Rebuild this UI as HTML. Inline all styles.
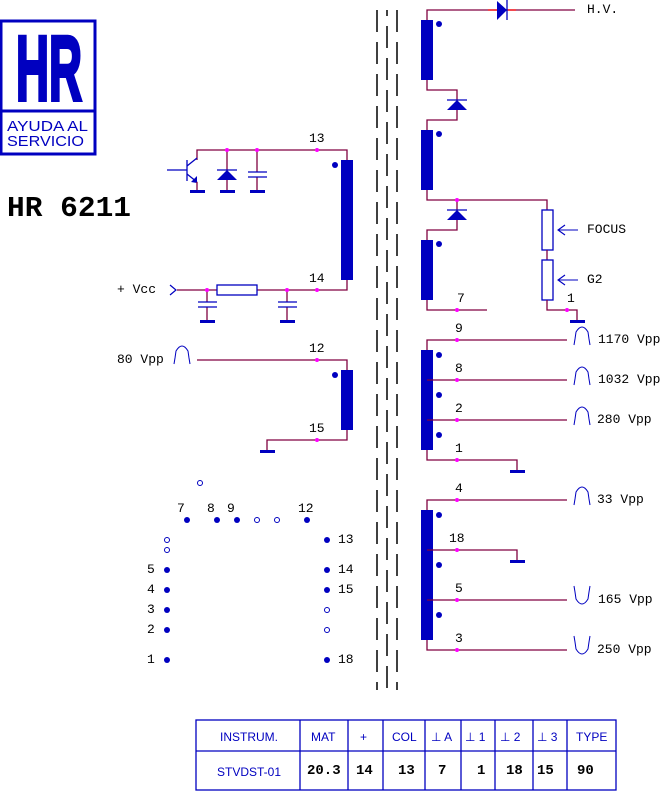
<!DOCTYPE html>
<html><head><meta charset="utf-8"><style>
html,body{margin:0;padding:0;background:#fff}
svg{display:block}
.t{font-family:"Liberation Mono",monospace;font-size:13px;fill:#000}
.w{stroke:#800040;stroke-width:1.3;fill:none}
.b{fill:#0000C0}
.p{fill:#FF00FF}
.tb{font-family:"Liberation Sans",sans-serif;font-size:12px;fill:#0000C0}
.tm{font-family:"Liberation Mono",monospace;font-size:14px;font-weight:bold;fill:#000}
</style></head><body>
<svg width="662" height="791" viewBox="0 0 662 791" xmlns="http://www.w3.org/2000/svg">
<!-- Logo -->
<rect x="1" y="21" width="94" height="133" fill="none" stroke="#0000C0" stroke-width="3"/>
<line x1="1" y1="111" x2="95" y2="111" stroke="#0000C0" stroke-width="3"/>
<text x="16" y="100" font-family="Liberation Sans" font-weight="bold" font-size="92" fill="#0000C0" stroke="#0000C0" stroke-width="4" textLength="66" lengthAdjust="spacingAndGlyphs">HR</text>
<text x="7" y="131" font-family="Liberation Sans" font-size="15" fill="#0000C0" textLength="81" lengthAdjust="spacingAndGlyphs">AYUDA AL</text>
<text x="7" y="146" font-family="Liberation Sans" font-size="15" fill="#0000C0" textLength="77" lengthAdjust="spacingAndGlyphs">SERVICIO</text>
<text x="7" y="216" font-family="Liberation Mono" font-weight="bold" font-size="29" fill="#000" textLength="124" lengthAdjust="spacingAndGlyphs">HR 6211</text>

<!-- core -->
<g stroke="#000" stroke-width="1.5">
<line x1="377" y1="10" x2="377" y2="690" stroke-dasharray="22 10"/>
<line x1="387" y1="10" x2="387" y2="690" stroke-dasharray="22 10" stroke-dashoffset="-16"/>
<line x1="397" y1="10" x2="397" y2="690" stroke-dasharray="22 10"/>
</g>

<!-- primary 13-14 -->
<polyline class="w" points="197,160 197,150 347,150 347,160"/>
<rect class="b" x="341" y="160" width="12" height="120"/>
<circle class="b" cx="335" cy="165" r="3"/>
<polyline class="w" points="347,280 347,290 177,290"/>
<rect x="217" y="285" width="40" height="10" fill="#fff" stroke="#0000C0" stroke-width="1.3"/>
<text class="t" x="309" y="142">13</text>
<text class="t" x="309" y="282">14</text>
<!-- transistor -->
<g stroke="#0000C0" stroke-width="1.3" fill="none">
<line x1="167" y1="170" x2="187" y2="170"/>
<line x1="187" y1="160" x2="187" y2="181"/>
<line x1="187" y1="166" x2="197" y2="158"/>
<line x1="187" y1="174" x2="197" y2="182"/>
</g>
<polygon class="b" points="197,176 197,183 191,182"/>
<line class="w" x1="197" y1="182" x2="197" y2="190"/>
<rect class="b" x="190" y="190" width="15" height="3"/>
<!-- diode -->
<line class="w" x1="227" y1="150" x2="227" y2="190"/>
<polygon class="b" points="217,180 237,180 227,170"/>
<line x1="217" y1="170" x2="237" y2="170" stroke="#0000C0" stroke-width="1.3"/>
<rect class="b" x="220" y="190" width="15" height="3"/>
<!-- cap -->
<line class="w" x1="257" y1="150" x2="257" y2="172"/>
<line class="w" x1="257" y1="177" x2="257" y2="190"/>
<line x1="248" y1="172" x2="267" y2="172" stroke="#0000C0" stroke-width="1.3"/>
<line x1="248" y1="177" x2="267" y2="177" stroke="#0000C0" stroke-width="1.3"/>
<rect class="b" x="250" y="190" width="15" height="3"/>
<g class="p"><circle cx="227" cy="150" r="2"/><circle cx="257" cy="150" r="2"/><circle cx="317" cy="150" r="2"/></g>
<!-- Vcc -->
<text class="t" x="117" y="293">+ Vcc</text>
<polyline points="170,285 176,290 170,295" stroke="#0000C0" stroke-width="1.2" fill="none"/>
<g>
<line class="w" x1="207" y1="290" x2="207" y2="302"/><line class="w" x1="207" y1="307" x2="207" y2="320"/>
<line x1="198" y1="302" x2="217" y2="302" stroke="#0000C0" stroke-width="1.3"/><line x1="198" y1="307" x2="217" y2="307" stroke="#0000C0" stroke-width="1.3"/>
<rect class="b" x="200" y="320" width="15" height="3"/>
<line class="w" x1="287" y1="290" x2="287" y2="302"/><line class="w" x1="287" y1="307" x2="287" y2="320"/>
<line x1="278" y1="302" x2="297" y2="302" stroke="#0000C0" stroke-width="1.3"/><line x1="278" y1="307" x2="297" y2="307" stroke="#0000C0" stroke-width="1.3"/>
<rect class="b" x="280" y="320" width="15" height="3"/>
</g>
<g class="p"><circle cx="207" cy="290" r="2"/><circle cx="287" cy="290" r="2"/><circle cx="317" cy="290" r="2"/></g>

<!-- primary 12-15 -->
<text class="t" x="117" y="363">80 Vpp</text>
<path d="M174,364 L175,358 L176,351 Q182,341 188,351 L189,358 L190,364" stroke="#0000C0" stroke-width="1" fill="none"/>
<polyline class="w" points="197,360 347,360 347,370"/>
<rect class="b" x="341" y="370" width="12" height="60"/>
<circle class="b" cx="335" cy="375" r="3"/>
<polyline class="w" points="347,430 347,440 267,440 267,450"/>
<rect class="b" x="260" y="450" width="15" height="3"/>
<g class="p"><circle cx="317" cy="360" r="2"/><circle cx="317" cy="440" r="2"/></g>
<text class="t" x="309" y="352">12</text>
<text class="t" x="309" y="432">15</text>

<!-- HV section -->
<polyline class="w" points="427,20 427,10 575,10"/>
<line x1="488" y1="10" x2="516" y2="10" stroke="#f00" stroke-width="1.3"/>
<polygon class="b" points="497,1 497,20 507,10"/>
<line x1="507" y1="0" x2="507" y2="20" stroke="#0000C0" stroke-width="1.3"/>
<text class="t" x="587" y="13">H.V.</text>
<rect class="b" x="421" y="20" width="12" height="60"/>
<rect class="b" x="421" y="130" width="12" height="60"/>
<rect class="b" x="421" y="240" width="12" height="60"/>
<g class="b"><circle cx="439" cy="24" r="3"/><circle cx="439" cy="134" r="3"/><circle cx="439" cy="244" r="3"/></g>
<polyline class="w" points="427,80 427,90 457,90 457,120 427,120 427,130"/>
<polygon class="b" points="447,110 467,110 457,100"/>
<line x1="447" y1="100" x2="467" y2="100" stroke="#0000C0" stroke-width="1.3"/>
<polyline class="w" points="427,190 427,200 547,200 547,210"/>
<polyline class="w" points="457,200 457,230 427,230 427,240"/>
<polygon class="b" points="447,220 467,220 457,210"/>
<line x1="447" y1="210" x2="467" y2="210" stroke="#0000C0" stroke-width="1.3"/>
<circle class="p" cx="457" cy="200" r="2"/>
<rect x="542" y="210" width="11" height="40" fill="#fff" stroke="#0000C0" stroke-width="1.3"/>
<line class="w" x1="547" y1="250" x2="547" y2="260"/>
<rect x="542" y="260" width="11" height="40" fill="#fff" stroke="#0000C0" stroke-width="1.3"/>
<polyline class="w" points="547,300 547,310 577,310 577,320"/>
<rect class="b" x="570" y="320" width="15" height="3"/>
<circle class="p" cx="567" cy="310" r="2"/>
<g stroke="#0000C0" stroke-width="1.1" fill="none">
<line x1="558" y1="230" x2="578" y2="230"/><polyline points="565,225 558,230 565,235"/>
<line x1="558" y1="280" x2="578" y2="280"/><polyline points="565,275 558,280 565,285"/>
</g>
<text class="t" x="587" y="233">FOCUS</text>
<text class="t" x="587" y="283">G2</text>
<polyline class="w" points="427,300 427,310 487,310"/>
<circle class="p" cx="457" cy="310" r="2"/>
<text class="t" x="457" y="302">7</text>
<text class="t" x="567" y="302">1</text>

<!-- mid winding -->
<rect class="b" x="421" y="350" width="12" height="100"/>
<g class="b"><circle cx="439" cy="355" r="3"/><circle cx="439" cy="395" r="3"/><circle cx="439" cy="435" r="3"/></g>
<polyline class="w" points="427,350 427,340 567,340"/>
<line class="w" x1="427" y1="380" x2="567" y2="380"/>
<line class="w" x1="427" y1="420" x2="567" y2="420"/>
<polyline class="w" points="427,450 427,460 517,460 517,470"/>
<rect class="b" x="510" y="470" width="15" height="3"/>
<g class="p"><circle cx="457" cy="340" r="2"/><circle cx="457" cy="380" r="2"/><circle cx="457" cy="420" r="2"/><circle cx="457" cy="460" r="2"/></g>
<text class="t" x="455" y="332">9</text>
<text class="t" x="455" y="372">8</text>
<text class="t" x="455" y="412">2</text>
<text class="t" x="455" y="452">1</text>

<!-- lower winding -->
<rect class="b" x="421" y="510" width="12" height="130"/>
<g class="b"><circle cx="439" cy="515" r="3"/><circle cx="439" cy="565" r="3"/><circle cx="439" cy="615" r="3"/></g>
<polyline class="w" points="427,510 427,500 567,500"/>
<polyline class="w" points="427,550 517,550 517,560"/>
<rect class="b" x="510" y="560" width="15" height="3"/>
<line class="w" x1="427" y1="600" x2="567" y2="600"/>
<polyline class="w" points="427,640 427,650 567,650"/>
<g class="p"><circle cx="457" cy="500" r="2"/><circle cx="457" cy="550" r="2"/><circle cx="457" cy="600" r="2"/><circle cx="457" cy="650" r="2"/></g>
<text class="t" x="455" y="492">4</text>
<text class="t" x="449" y="542">18</text>
<text class="t" x="455" y="592">5</text>
<text class="t" x="455" y="642">3</text>

<!-- pulses right -->
<g stroke="#0000C0" stroke-width="1" fill="none">
<path d="M574,345 L575,339 L576,332 Q582,322 588,332 L589,339 L590,345"/>
<path d="M574,385 L575,379 L576,372 Q582,362 588,372 L589,379 L590,385"/>
<path d="M574,425 L575,419 L576,412 Q582,402 588,412 L589,419 L590,425"/>
<path d="M574,505 L575,499 L576,492 Q582,482 588,492 L589,499 L590,505"/>
<path d="M574,586 L575,592 L576,599 Q582,609 588,599 L589,592 L590,586"/>
<path d="M574,636 L575,642 L576,649 Q582,659 588,649 L589,642 L590,636"/>
</g>
<text class="t" x="598" y="343">1170 Vpp</text>
<text class="t" x="598" y="383">1032 Vpp</text>
<text class="t" x="597" y="423">280 Vpp</text>
<text class="t" x="597" y="503">33 Vpp</text>
<text class="t" x="598" y="603">165 Vpp</text>
<text class="t" x="597" y="653">250 Vpp</text>

<!-- pin diagram -->
<g class="b">
<circle cx="187" cy="520" r="3"/><circle cx="217" cy="520" r="3"/><circle cx="237" cy="520" r="3"/><circle cx="307" cy="520" r="3"/>
<circle cx="167" cy="570" r="3"/><circle cx="167" cy="590" r="3"/><circle cx="167" cy="610" r="3"/><circle cx="167" cy="630" r="3"/><circle cx="167" cy="660" r="3"/>
<circle cx="327" cy="540" r="3"/><circle cx="327" cy="570" r="3"/><circle cx="327" cy="590" r="3"/><circle cx="327" cy="660" r="3"/>
</g>
<g fill="none" stroke="#0000C0" stroke-width="1">
<circle cx="200" cy="483" r="2.5"/><circle cx="257" cy="520" r="2.5"/><circle cx="277" cy="520" r="2.5"/>
<circle cx="167" cy="540" r="2.5"/><circle cx="167" cy="550" r="2.5"/>
<circle cx="327" cy="610" r="2.5"/><circle cx="327" cy="630" r="2.5"/>
</g>
<text class="t" x="177" y="512">7</text>
<text class="t" x="207" y="512">8</text>
<text class="t" x="227" y="512">9</text>
<text class="t" x="298" y="512">12</text>
<text class="t" x="147" y="573">5</text>
<text class="t" x="147" y="593">4</text>
<text class="t" x="147" y="613">3</text>
<text class="t" x="147" y="633">2</text>
<text class="t" x="147" y="663">1</text>
<text class="t" x="338" y="543">13</text>
<text class="t" x="338" y="573">14</text>
<text class="t" x="338" y="593">15</text>
<text class="t" x="338" y="663">18</text>

<!-- table -->
<g stroke="#0000C0" stroke-width="1.3" fill="none">
<rect x="196" y="720" width="420" height="70"/>
<line x1="196" y1="751" x2="616" y2="751"/>
<line x1="300" y1="720" x2="300" y2="790"/><line x1="348" y1="720" x2="348" y2="790"/>
<line x1="383" y1="720" x2="383" y2="790"/><line x1="425" y1="720" x2="425" y2="790"/>
<line x1="461" y1="720" x2="461" y2="790"/><line x1="495" y1="720" x2="495" y2="790"/>
<line x1="533" y1="720" x2="533" y2="790"/><line x1="567" y1="720" x2="567" y2="790"/>
</g>
<text class="tb" x="220" y="741">INSTRUM.</text>
<text class="tb" x="311" y="741">MAT</text>
<text class="tb" x="360" y="741">+</text>
<text class="tb" x="392" y="741">COL</text>
<text class="tb" x="431" y="741">⊥ A</text>
<text class="tb" x="465" y="741">⊥ 1</text>
<text class="tb" x="500" y="741">⊥ 2</text>
<text class="tb" x="537" y="741">⊥ 3</text>
<text class="tb" x="576" y="741">TYPE</text>
<text class="tb" x="217" y="776">STVDST-01</text>
<text class="tm" x="307" y="774">20.3</text>
<text class="tm" x="356" y="774">14</text>
<text class="tm" x="398" y="774">13</text>
<text class="tm" x="438" y="774">7</text>
<text class="tm" x="477" y="774">1</text>
<text class="tm" x="506" y="774">18</text>
<text class="tm" x="537" y="774">15</text>
<text class="tm" x="577" y="774">90</text>
</svg>
</body></html>
